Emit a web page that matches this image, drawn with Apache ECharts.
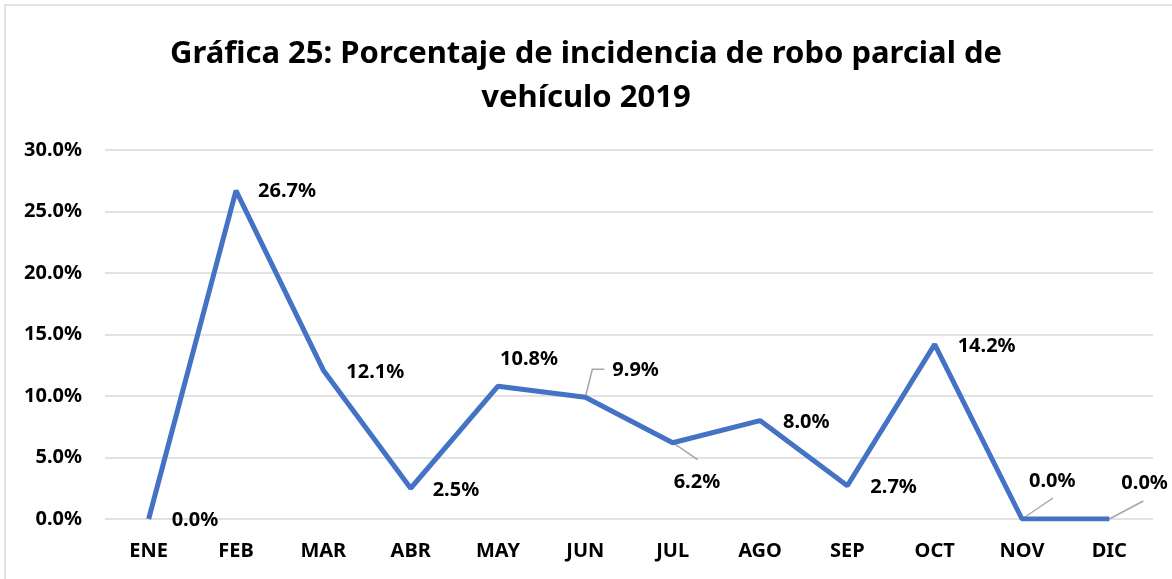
<!DOCTYPE html>
<html>
<head>
<meta charset="utf-8">
<script src="https://cdn.jsdelivr.net/npm/echarts@6/dist/echarts.min.js"></script>
<style>
  html, body { margin: 0; padding: 0; background: #fff; }
  #main { width: 1172px; height: 579px; }
</style>
</head>
<body>
<div id="main"></div>
<script>
  const months = ['ENE', 'FEB', 'MAR', 'ABR', 'MAY', 'JUN', 'JUL', 'AGO', 'SEP', 'OCT', 'NOV', 'DIC']
  const incidencia = [0.0, 26.7, 12.1, 2.5, 10.8, 9.9, 6.2, 8.0, 2.7, 14.2, 0.0, 0.0]
  const yTicks = [0, 5, 10, 15, 20, 25, 30]

  // label offsets per month (dx, dy)
  const labelShift = [
    [1, 1], [0, 1], [1, 2], [0, 2], [-20, -27], [5, -27],
    [-21, 40], [1, 2], [1, 2], [1, 2], [-15, -38], [-10, -36]
  ]
  // leader line bends, relative to the data point (null = no leader)
  const leaderPath = [
    null, null, null, null, null, [[7, -28], [19, -28]],
    [[25, 17]], null, null, null, [[31, -21]], [[34, -18]]
  ]

  const font = '"Noto Sans", sans-serif'
  const myChart = echarts.init(document.getElementById('main'))

  function renderLeader(params, api) {
    const path = leaderPath[params.dataIndex]
    if (!path) return null
    const p = api.coord([api.value(0), api.value(1)])
    const pts = [p].concat(path.map((d) => [p[0] + d[0], p[1] + d[1]]))
    return {
      type: 'polyline',
      shape: { points: pts },
      style: { stroke: '#a6a6a6', lineWidth: 1.5, fill: null }
    }
  }

  myChart.setOption({
    animation: false,
    title: {
      text: 'Gráfica 25: Porcentaje de incidencia de robo parcial de\nvehículo 2019',
      left: 'center',
      top: 27,
      textStyle: { fontFamily: font, fontWeight: 'bold', fontSize: 31, lineHeight: 44, color: '#000' }
    },
    graphic: [{
      type: 'rect',
      shape: { x: 5, y: 5, width: 1200, height: 620 },
      style: { fill: 'none', stroke: '#d9d9d9', lineWidth: 1.5 },
      silent: true
    }],
    grid: { left: 105, right: 19, top: 150, bottom: 60 },
    xAxis: {
      type: 'category',
      data: months,
      boundaryGap: true,
      axisLine: { show: false },
      axisTick: { show: false },
      axisLabel: { fontFamily: font, fontWeight: 'bold', fontSize: 20, color: '#000', margin: 22 }
    },
    yAxis: {
      type: 'value',
      min: yTicks[0],
      max: yTicks[yTicks.length - 1],
      interval: 5,
      axisLine: { show: false },
      axisTick: { show: false },
      splitLine: { lineStyle: { color: '#d9d9d9', width: 1.5 } },
      axisLabel: {
        fontFamily: font, fontWeight: 'bold', fontSize: 20, color: '#000', margin: 23,
        formatter: (v) => v.toFixed(1) + '%'
      }
    },
    series: [
      {
        type: 'custom',
        silent: true,
        z: 1,
        data: incidencia.map((v, i) => [i, v]),
        renderItem: renderLeader
      },
      {
        type: 'line',
        z: 2,
        data: incidencia,
        symbol: 'circle',
        symbolSize: 0,
        lineStyle: { color: '#4472C4', width: 5 },
        itemStyle: { color: '#4472C4' },
        label: {
          show: true,
          position: 'right',
          distance: 22,
          fontFamily: font,
          fontWeight: 'bold',
          fontSize: 20,
          color: '#000',
          formatter: (p) => p.value.toFixed(1) + '%'
        },
        labelLayout: (p) => ({ dx: labelShift[p.dataIndex][0], dy: labelShift[p.dataIndex][1] })
      }
    ]
  })
</script>
</body>
</html>
